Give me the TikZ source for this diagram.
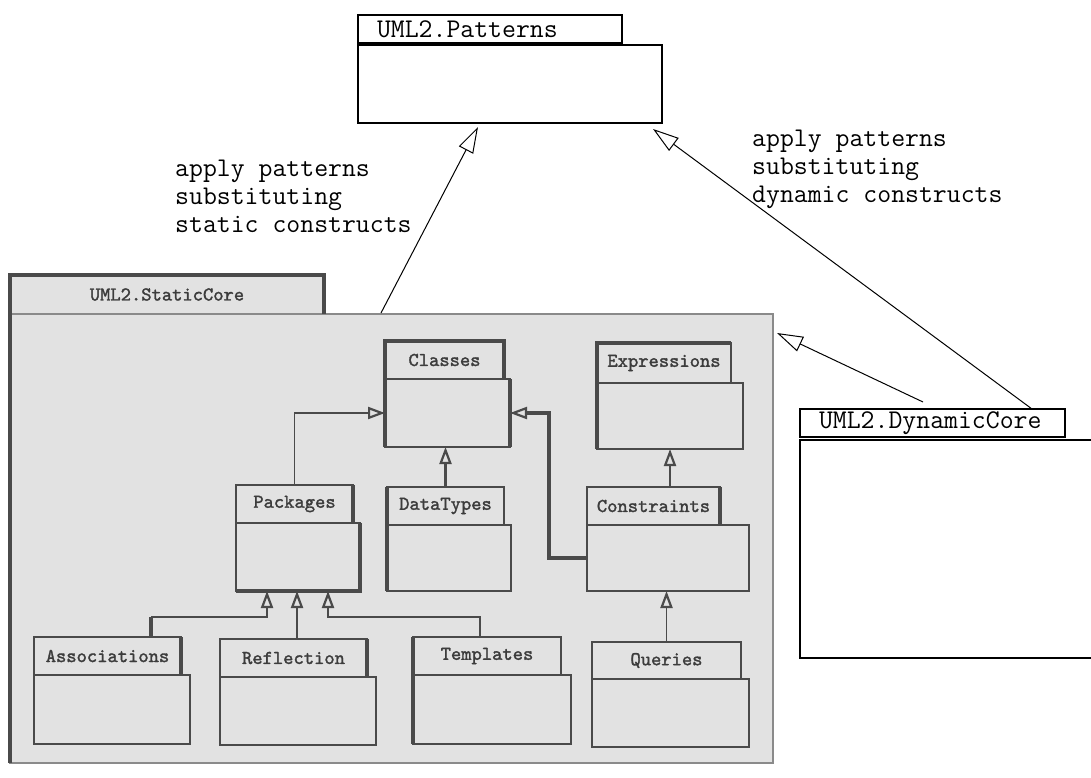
\documentclass[tikz,border=0pt]{standalone}
\usepackage{fontspec}
\newfontfamily\boldmono{lmmono10-regular}[Extension=.otf, FakeBold=1.6]
\usetikzlibrary{arrows.meta,calc}
\definecolor{pkgfill}{HTML}{E2E2E2}
\definecolor{ink}{HTML}{4A4A4A}
\definecolor{textink}{HTML}{3C3C3C}
\definecolor{framegray}{HTML}{8A8A8A}
\tikzset{
  bigfont/.style={font=\ttfamily\fontsize{27}{27.7}\selectfont},
  smallfont/.style={font=\boldmono\fontsize{19.6}{22}\selectfont},
  outtab/.style={draw=black, line width=2pt, bigfont, anchor=north west, inner xsep=19pt, inner ysep=0pt, outer sep=0pt, align=left, minimum height=28pt},
  outbody/.style={draw=black, line width=2.5pt, anchor=north west, inner sep=0pt, outer sep=0pt},
  intab/.style={draw=ink, line width=1.5pt, fill=pkgfill, smallfont, text=textink, anchor=north west, inner sep=0pt, outer sep=0pt},
  inbody/.style={draw=ink, line width=1.5pt, fill=pkgfill, anchor=north west, inner sep=0pt, outer sep=0pt},
  thickside/.style={draw=ink, line width=3.5pt, line join=miter},
  gen/.style={draw=ink, line width=1.6pt, -{Triangle[length=17pt,width=12pt,fill=pkgfill,line width=2.2pt]}},
  genthick/.style={gen, line width=3.5pt},
  realize/.style={draw=black, line width=1pt, -{Triangle[open,length=26pt,width=16pt]}},
  lbl/.style={bigfont, align=left, inner sep=0pt, anchor=base west}
}
\begin{document}
\begin{tikzpicture}[x=1pt,y=-1pt]
\clip (0,0) rectangle (1091,778);
\fill[white] (0,0) rectangle (1091,778);

% UML2.Patterns
\node[outtab, text width=226pt] (patT) at (358,15) {UML2.Patterns};
\node[outbody, minimum width=304pt, minimum height=78pt] (patB) at (358,45) {};

% UML2.StaticCore
\node[intab, draw=ink, minimum width=314pt, minimum height=39pt] (staticT) at (10,275) {UML2.StaticCore};
\node[inbody, draw=framegray, minimum width=763pt, minimum height=449pt] (staticB) at (10,314) {};
\draw[thickside] (staticT.south west) -- (staticT.north west) -- (staticT.north east) -- (staticT.south east);
\draw[thickside] (staticB.north west) -- (staticB.south west);

% inner packages
\node[intab, minimum width=119pt, minimum height=38pt] (classesT) at (385,341) {Classes};
\node[inbody, minimum width=125pt, minimum height=68pt] (classesB) at (385,379) {};
\draw[thickside] (classesT.south west) -- (classesT.north west) -- (classesT.north east) -- (classesT.south east);
\draw[thickside] (classesB.north west) -- (classesB.south west);
\draw[thickside] (classesB.north east) -- (classesB.south east);

\node[intab, minimum width=134pt, minimum height=40pt] (exprT) at (597,343) {Expressions};
\node[inbody, minimum width=146pt, minimum height=66pt] (exprB) at (597,383) {};
\draw[thickside] (exprT.south west) -- (exprT.north west) -- (exprT.north east);
\draw[thickside] (exprB.north west) -- (exprB.south west);

\node[intab, minimum width=117pt, minimum height=38pt] (packT) at (236,485) {Packages};
\node[inbody, minimum width=124pt, minimum height=68pt] (packB) at (236,523) {};
\draw[thickside] (packT.north east) -- (packT.south east);
\draw[thickside] (packB.north east) -- (packB.south east) -- (packB.south west);

\node[intab, minimum width=117pt, minimum height=38pt] (dataT) at (387,487) {DataTypes};
\node[inbody, minimum width=124pt, minimum height=66pt] (dataB) at (387,525) {};
\draw[thickside] (dataT.north west) -- (dataT.south west);
\draw[thickside] (dataB.north west) -- (dataB.south west);

\node[intab, minimum width=133pt, minimum height=38pt] (consT) at (587,487) {Constraints};
\node[inbody, minimum width=162pt, minimum height=66pt] (consB) at (587,525) {};
\draw[thickside] (consT.north east) -- (consT.south east);

\node[intab, minimum width=147pt, minimum height=38pt] (assocT) at (34,637) {Associations};
\node[inbody, minimum width=156pt, minimum height=69pt] (assocB) at (34,675) {};
\draw[thickside] (assocT.north east) -- (assocT.south east);

\node[intab, minimum width=147pt, minimum height=38pt] (reflT) at (220,639) {Reflection};
\node[inbody, minimum width=156pt, minimum height=68pt] (reflB) at (220,677) {};
\draw[thickside] (reflT.north east) -- (reflT.south east);

\node[intab, minimum width=148pt, minimum height=38pt] (templT) at (413,637) {Templates};
\node[inbody, minimum width=158pt, minimum height=69pt] (templB) at (413,675) {};
\draw[thickside] (templT.north west) -- (templT.south west);
\draw[thickside] (templB.north west) -- (templB.south west);

\node[intab, minimum width=149pt, minimum height=37pt] (querT) at (592,642) {Queries};
\node[inbody, minimum width=157pt, minimum height=68pt] (querB) at (592,679) {};

% UML2.DynamicCore
\node[outtab, text width=227pt] (dynT) at (800,409) {UML2.DynamicCore};
\node[outbody, minimum width=320pt, minimum height=218pt] (dynB) at (800,440) {};

% inner generalizations
\draw[gen] (packT.north) |- (classesB.west);
\draw[genthick] (dataT.north) -- (dataT.north |- classesB.south);
\draw[genthick] (consB.west) -- ++(-38,0) |- (classesB.east);
\draw[gen] (consT.north -| exprB.south) -- (exprB.south);
\draw[gen] (querT.north) -- (querT.north |- consB.south);
\coordinate (assocUp) at ($(assocT.north west)+(117,0)$);
\coordinate (assocBend) at ($(assocUp)+(0,-20)$);
\draw[line width=3.5pt, ink] (assocUp) -- (assocBend);
\draw[gen] (assocBend) -| ($(packB.south west)+(31,0)$);
\draw[gen] ($(reflT.north west)+(77,0)$) -- ($(packB.south west)+(61,0)$);
\draw[gen] ($(templT.north west)+(67,0)$) -- ++(0,-20) -| ($(packB.south west)+(92,0)$);

% realizations
\coordinate (s1) at ($(staticB.north west)+(371,-1)$);
\coordinate (t1) at ($(patB.south west)+(120,4)$);
\draw[realize] (s1) -- (t1);
\coordinate (s2) at ($(dynT.north west)+(232,0)$);
\coordinate (t2) at ($(patB.south east)+(-9,6)$);
\draw[realize] (s2) -- (t2);
\coordinate (s3) at ($(dynT.north west)+(123,-7)$);
\coordinate (t3) at ($(staticB.north east)+(4,19)$);
\draw[realize] (s3) -- (t3);

% labels
\node[lbl] (lblStatic) at (175,232) {apply patterns\\substituting\\static constructs};
\node[lbl] (lblDynamic) at (752,202) {apply patterns\\substituting\\dynamic constructs};
\end{tikzpicture}
\end{document}
